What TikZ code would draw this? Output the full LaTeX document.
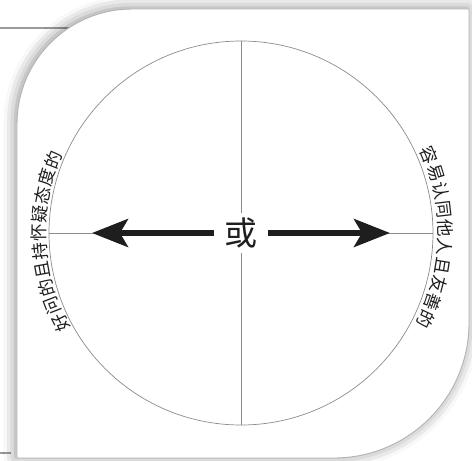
\documentclass[tikz,border=0pt]{standalone}
\usepackage{fontspec}
\newfontfamily\cjk{Noto Sans CJK SC}
\usetikzlibrary{arrows.meta,shadows.blur}
\definecolor{rule}{HTML}{9A9A9A}
\definecolor{ink}{HTML}{1E1E1E}
\tikzset{
  bgline/.style={draw=rule,line width=1.6pt},
  card/.style={fill=white,draw=black!30,line width=0.9pt,
    blur shadow={shadow xshift=-1.5pt,shadow yshift=1pt,shadow blur radius=12pt,shadow opacity=45}},
  guide/.style={draw=black!45,line width=0.7pt},
  arrowline/.style={draw=ink,line width=5.5pt,-{Stealth[length=36pt,width=28pt,inset=8pt]}},
  sidechar/.style={text=ink,inner sep=0pt,font=\cjk\fontsize{17.5}{17.5}\selectfont},
}
\begin{document}
\begin{tikzpicture}[x=1pt,y=1pt]
\useasboundingbox (-241,-228) rectangle (231,233);
% background lines behind the card
\coordinate (tl0) at (-241,205);
\coordinate (tl1) at (-150,205);
\coordinate (bl0) at (-241,-220);
\coordinate (bl1) at (-230,-220);
\draw[bgline] (tl0) -- (tl1);
\draw[bgline] (bl0) -- (bl1);
% card
\path[card] (-224,-225) -- (-224,109) arc[start angle=180,end angle=90,radius=115]
  -- (228,224) -- (228,-90) arc[start angle=0,end angle=-90,radius=135] -- cycle;
% circle and cross
\draw[guide] (0,0) circle[radius=192];
\coordinate (cl) at (-192,0);
\coordinate (cr) at (192,0);
\coordinate (ct) at (0,192);
\coordinate (cb) at (0,-192);
\draw[guide] (cl) -- (cr);
\draw[guide] (ct) -- (cb);
% centre word
\node[fill=white,inner sep=0pt,minimum width=54pt,minimum height=40pt,text=ink,
  font=\cjk\fontsize{33}{33}\selectfont] (or) at (0,0) {或};
\coordinate (ltip) at (-149,0);
\coordinate (rtip) at (149,0);
\draw[arrowline] (or.west) -- (ltip);
\draw[arrowline] (or.east) -- (rtip);
% side texts
\foreach \c [count=\i from 0] in {好,问,的,且,持,怀,疑,态,度,的}{
  \pgfmathsetmacro\ang{206.5-\i*5.32}
  \node[sidechar,rotate=\ang-90] (l\i) at (\ang:202) {\c};
}
\foreach \c [count=\i from 0] in {容,易,认,同,他,人,且,友,善,的}{
  \pgfmathsetmacro\ang{22.5-\i*5.29}
  \node[sidechar,rotate=\ang-90] (r\i) at (\ang:204) {\c};
}
\end{tikzpicture}
\end{document}
